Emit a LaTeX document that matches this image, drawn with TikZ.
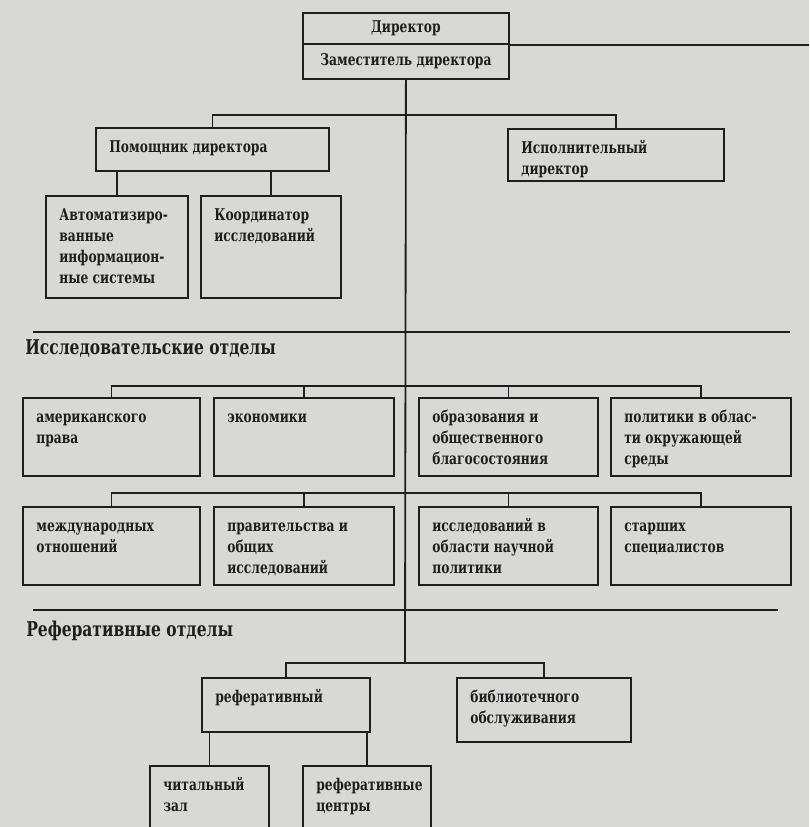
\documentclass[tikz,border=0pt]{standalone}
\usepackage{fontspec}
\setmainfont{DejaVu Serif}
\newfontfamily\boxfont{DejaVu Serif}[FakeStretch=0.76]
\usetikzlibrary{positioning, calc}
\definecolor{paper}{RGB}{216,216,213}
\definecolor{ink}{RGB}{30,30,30}
\newcommand{\celltext}[1]{\begin{tabular}[t]{@{}l@{}}#1\end{tabular}}

\begin{document}
\begin{tikzpicture}[x=0.025cm, y=-0.025cm,
  size/.style 2 args={minimum width=#1*0.025cm, minimum height=#2*0.025cm},
  unit/.style={draw=ink, line width=1.3pt, anchor=north west, inner sep=0pt, text=ink,
    font=\boxfont\bfseries\fontsize{11.5}{15}\selectfont},
  lbl/.style={anchor=north west, inner sep=0pt, xshift=10pt, yshift=-7.3pt,
    text=ink, font=\boxfont\bfseries\fontsize{11.5}{15}\selectfont},
  link/.style={draw=ink, line width=1.3pt},
  rule/.style={draw=ink, line width=0.8pt},
  head/.style={anchor=west, inner sep=0pt, text=ink, font=\boxfont\bfseries\fontsize{14.5}{17}\selectfont}]
\clip (0,0) rectangle (809,827);
\fill[paper] (0,0) rectangle (809,827);

% Management
\node[unit, size={206}{31}] (dir) at (302,12) {Директор};
\node[unit, size={206}{35}] (zam) at (302,43) {Заместитель директора};
\node[unit, size={233}{43}, label={[lbl]north west:{\celltext{Помощник директора}}}] (pom) at (95,127) {};
\node[unit, size={216}{52}, label={[lbl]north west:{\celltext{Исполнительный\\директор}}}] (isp) at (507,128) {};
\node[unit, size={142}{102}, label={[lbl]north west:{\celltext{Автоматизиро-\\ванные\\информацион-\\ные системы}}}] (avt) at (45,195) {};
\node[unit, size={140}{102}, label={[lbl]north west:{\celltext{Координатор\\исследований}}}] (koord) at (200,195) {};

\coordinate (edge) at (809,0);
\coordinate (topbr) at (405,115);
\draw[link] (dir.south east) -- (dir.south east -| edge);
\draw[link] (pom.north) |- (topbr) -| (isp.north);
\draw[link] (avt.north) -- (avt.north |- pom.south);
\draw[link] (koord.north) -- (koord.north |- pom.south);

% Research departments
\draw[rule] (33,332) -- (790,332);
\node[head] (hres) at (25,348) {Исследовательские отделы};

\node[unit, size={177}{78}, label={[lbl]north west:{\celltext{американского\\права}}}] (law) at (22,397) {};
\node[unit, size={180}{78}, label={[lbl]north west:{\celltext{экономики}}}] (econ) at (213,397) {};
\node[unit, size={179}{78}, label={[lbl]north west:{\celltext{образования и\\общественного\\благосостояния}}}] (edu) at (418,397) {};
\node[unit, size={180}{78}, label={[lbl]north west:{\celltext{политики в облас-\\ти окружающей\\среды}}}] (env) at (610,397) {};

\node[unit, size={177}{78}, label={[lbl]north west:{\celltext{международных\\отношений}}}] (intl) at (22,506) {};
\node[unit, size={180}{78}, label={[lbl]north west:{\celltext{правительства и\\общих\\исследований}}}] (gov) at (213,506) {};
\node[unit, size={179}{78}, label={[lbl]north west:{\celltext{исследований в\\области научной\\политики}}}] (sci) at (418,506) {};
\node[unit, size={180}{78}, label={[lbl]north west:{\celltext{старших\\специалистов}}}] (senior) at (610,506) {};

\coordinate (resbr) at (405,386);
\coordinate (resbrb) at (405,493);
\draw[link] (law.north) |- (resbr) -| (env.north);
\draw[link] (econ.north) -- (econ.north |- resbr);
\draw[link] (edu.north) -- (edu.north |- resbr);
\draw[link] (intl.north) |- (resbrb) -| (senior.north);
\draw[link] (gov.north) -- (gov.north |- resbrb);
\draw[link] (sci.north) -- (sci.north |- resbrb);

% Reference departments
\draw[rule] (33,610) -- (778,610);
\node[head] (href) at (26,631) {Реферативные отделы};

\node[unit, size={168}{54}, label={[lbl]north west:{\celltext{реферативный}}}] (ref) at (201,677) {};
\node[unit, size={174}{64}, label={[lbl]north west:{\celltext{библиотечного\\обслуживания}}}] (lib) at (456,677) {};
\node[unit, size={119}{90}, label={[lbl]north west:{\celltext{читальный\\зал}}}] (hall) at (149,765) {};
\node[unit, size={128}{90}, label={[lbl]north west:{\celltext{реферативные\\центры}}}] (centres) at (302,765) {};

\coordinate (refbr) at (405,663);
\draw[link] (zam.south) -- (refbr);
\draw[link] (ref.north) |- (refbr) -| (lib.north);
\draw[link] (hall.north) -- (hall.north |- ref.south);
\draw[link] (centres.north) -- (centres.north |- ref.south);
\end{tikzpicture}
\end{document}
